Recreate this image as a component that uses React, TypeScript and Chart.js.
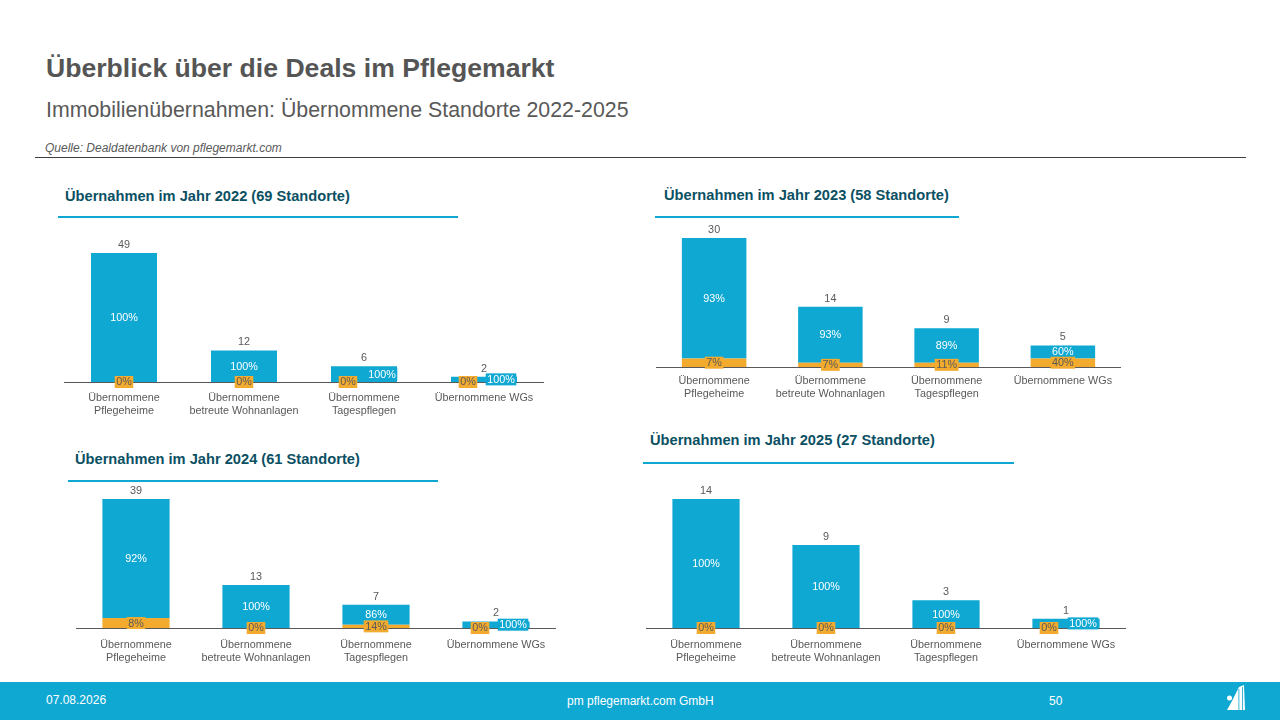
import { useEffect, useRef } from 'react'
import { Chart, registerables } from 'chart.js'

Chart.register(...registerables)

const categories = [
  ['Übernommene', 'Pflegeheime'],
  ['Übernommene', 'betreute Wohnanlagen'],
  ['Übernommene', 'Tagespflegen'],
  ['Übernommene WGs'],
]

// orange = lower part of the stack, blue = upper part
const orange2022 = [0, 0, 0, 0]
const blue2022 = [49, 12, 6, 2]
const orange2023 = [2, 1, 1, 2]
const blue2023 = [28, 13, 8, 3]
const orange2024 = [3, 0, 1, 0]
const blue2024 = [36, 13, 6, 2]
const orange2025 = [0, 0, 0, 0]
const blue2025 = [14, 9, 3, 1]

const BLUE = '#0fa8d3'
const ORANGE = '#f2ab2e'
const GREY = '#595959'
const FONT = '"Liberation Sans", Arial, sans-serif'

const TOP_ROOM = 24
const PLOT_H = 129
const BOTTOM_ROOM = 46

function pct(part: number, total: number) {
  return Math.round((part / total) * 100) + '%'
}

function box(ctx: CanvasRenderingContext2D, text: string, x: number, y: number, bg: string, color: string) {
  const w = ctx.measureText(text).width + 3
  ctx.fillStyle = bg
  ctx.fillRect(x - w / 2, y - 6, w, 12)
  ctx.fillStyle = color
  ctx.fillText(text, x, y + 0.5)
}

const stackLabels = {
  id: 'stackLabels',
  afterDatasetsDraw(chart: any, _args: any, opts: any) {
    const { ctx } = chart
    const lower = chart.getDatasetMeta(0).data
    const upper = chart.getDatasetMeta(1).data
    const orange = chart.data.datasets[0].data
    const blue = chart.data.datasets[1].data
    ctx.save()
    ctx.font = '10.8px ' + FONT
    ctx.textAlign = 'center'
    ctx.textBaseline = 'middle'
    upper.forEach((bar: any, i: number) => {
      const total = orange[i] + blue[i]
      const base = lower[i].y
      box(ctx, pct(blue[i], total), bar.x + opts.blueShift[i], (bar.y + base) / 2, BLUE, '#ffffff')
    })
    lower.forEach((bar: any, i: number) => {
      const total = orange[i] + blue[i]
      box(ctx, pct(orange[i], total), bar.x + opts.orangeShift[i], (bar.y + bar.base) / 2, ORANGE, GREY)
      ctx.fillStyle = GREY
      ctx.fillText(String(total), bar.x, upper[i].y - 8)
    })
    ctx.restore()
  },
}

function Panel({
  orange,
  blue,
  left,
  axisY,
  width,
  barFrac,
  tickPad,
  blueShift,
  orangeShift,
}: {
  orange: number[]
  blue: number[]
  left: number
  axisY: number
  width: number
  barFrac: number
  tickPad: number
  blueShift: number[]
  orangeShift: number[]
}) {
  const canvasRef = useRef<HTMLCanvasElement>(null)

  useEffect(() => {
    if (!canvasRef.current) return
    const chart = new Chart(canvasRef.current, {
      type: 'bar',
      data: {
        labels: categories,
        datasets: [
          { data: orange, backgroundColor: ORANGE, borderWidth: 0 },
          { data: blue, backgroundColor: BLUE, borderWidth: 0 },
        ],
      },
      plugins: [stackLabels],
      options: {
        animation: false,
        responsive: false,
        layout: { padding: { top: TOP_ROOM, left: 0, right: 0, bottom: 0 } },
        datasets: { bar: { categoryPercentage: 1, barPercentage: barFrac } },
        plugins: {
          legend: { display: false },
          tooltip: { enabled: false },
          stackLabels: { blueShift, orangeShift },
        } as any,
        scales: {
          x: {
            stacked: true,
            grid: { display: false },
            border: { display: true, color: GREY, width: 1 },
            afterFit: (axis: any) => {
              axis.height = BOTTOM_ROOM
            },
            ticks: {
              color: GREY,
              font: { family: FONT, size: 10.8 },
              padding: tickPad,
              autoSkip: false,
              maxRotation: 0,
            },
          },
          y: {
            stacked: true,
            display: false,
            min: 0,
            max: orange.reduce((m, v, i) => Math.max(m, v + blue[i]), 0),
          },
        },
      },
    })
    return () => { chart.destroy() }
  }, [])

  return (
    <canvas
      ref={canvasRef}
      width={width}
      height={TOP_ROOM + PLOT_H + BOTTOM_ROOM}
      style={{ position: 'absolute', left, top: axisY - PLOT_H - TOP_ROOM, width, height: TOP_ROOM + PLOT_H + BOTTOM_ROOM }}
    />
  )
}

function Heading({ text, x, y, lineX, lineY, lineW }: { text: string; x: number; y: number; lineX: number; lineY: number; lineW: number }) {
  return (
    <>
      <div style={{ position: 'absolute', left: x, top: y - 10, height: 20, lineHeight: '20px', fontSize: 14.65, fontWeight: 700, color: '#0b5063', whiteSpace: 'nowrap' }}>{text}</div>
      <div style={{ position: 'absolute', left: lineX, top: lineY, width: lineW, height: 2, background: BLUE }} />
    </>
  )
}

function Txt({ x, y, size, color, children, style }: any) {
  return (
    <div style={{ position: 'absolute', left: x, top: y - 15, height: 30, lineHeight: '30px', fontSize: size, color, whiteSpace: 'nowrap', ...style }}>{children}</div>
  )
}

export default function App() {
  return (
    <div style={{ position: 'absolute', left: 0, top: 0, width: 1280, height: 720, background: '#fff', overflow: 'hidden', fontFamily: FONT }}>
      <Txt x={46} y={68} size={26.6} color="#555555" style={{ fontWeight: 700 }}>Überblick über die Deals im Pflegemarkt</Txt>
      <Txt x={46} y={110} size={21.35} color="#595959">Immobilienübernahmen: Übernommene Standorte 2022-2025</Txt>
      <Txt x={45} y={148} size={12} color="#595959" style={{ fontStyle: 'italic' }}>Quelle: Dealdatenbank von pflegemarkt.com</Txt>
      <div style={{ position: 'absolute', left: 35, top: 157, width: 1211, height: 1, background: '#404040' }} />

      <Heading text="Übernahmen im Jahr 2022 (69 Standorte)" x={65} y={196} lineX={58} lineY={216} lineW={400} />
      <Heading text="Übernahmen im Jahr 2023 (58 Standorte)" x={664} y={195} lineX={655} lineY={216} lineW={304} />
      <Heading text="Übernahmen im Jahr 2024 (61 Standorte)" x={75} y={459} lineX={68} lineY={480} lineW={370} />
      <Heading text="Übernahmen im Jahr 2025 (27 Standorte)" x={650} y={440} lineX={643} lineY={462} lineW={371} />

      <Panel orange={orange2022} blue={blue2022} left={64} axisY={382} width={480} barFrac={0.55} tickPad={2} blueShift={[0, 0, 18, 17]} orangeShift={[0, 0, -16, -16]} />
      <Panel orange={orange2023} blue={blue2023} left={656} axisY={367} width={465} barFrac={0.555} tickPad={0} blueShift={[0, 0, 0, 0]} orangeShift={[0, 0, 0, 0]} />
      <Panel orange={orange2024} blue={blue2024} left={76} axisY={628} width={480} barFrac={0.56} tickPad={3} blueShift={[0, 0, 0, 17]} orangeShift={[0, 0, 0, -16]} />
      <Panel orange={orange2025} blue={blue2025} left={646} axisY={628} width={480} barFrac={0.56} tickPad={3} blueShift={[0, 0, 0, 17]} orangeShift={[0, 0, 0, -17]} />

      <div style={{ position: 'absolute', left: 0, top: 682, width: 1280, height: 38, background: BLUE }} />
      <Txt x={46} y={700} size={12} color="#ffffff">07.08.2026</Txt>
      <Txt x={567} y={701} size={12} color="#ffffff">pm pflegemarkt.com GmbH</Txt>
      <Txt x={1049} y={701} size={12} color="#ffffff">50</Txt>
      <svg style={{ position: 'absolute', left: 1226, top: 685, width: 20, height: 26 }} viewBox="0 0 20 26">
        <circle cx="3.5" cy="13" r="2.5" fill="#fff" />
        <polygon points="1,25 6,16 10,8 13,2 18,0 19,25" fill="#fff" />
        <rect x="12.5" y="4" width="0.8" height="21" fill={BLUE} />
        <rect x="16" y="2" width="0.8" height="23" fill={BLUE} />
      </svg>
    </div>
  )
}
